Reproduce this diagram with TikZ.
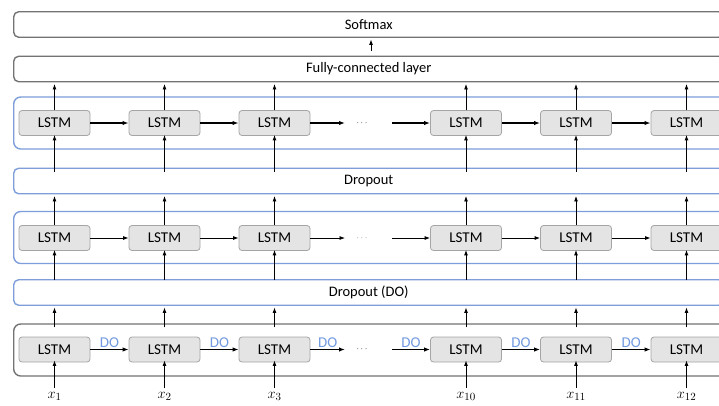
\documentclass[tikz,border=0pt]{standalone}
\usepackage{fontspec}
\setmainfont{Carlito}
\usetikzlibrary{arrows.meta}
\definecolor{blueline}{RGB}{125,158,218}
\definecolor{grayline}{RGB}{115,115,115}
\definecolor{lstmfill}{RGB}{228,228,228}
\definecolor{lstmdraw}{RGB}{165,165,165}
\definecolor{dotext}{RGB}{115,155,225}
\tikzset{
  lstmbox/.style={draw=lstmdraw, fill=lstmfill, rounded corners=3pt, line width=0.8pt,
    minimum width=71pt, minimum height=25pt, inner sep=0pt, font=\fontsize{15}{17}\selectfont},
  bandbox/.style={rounded corners=5pt, line width=1.4pt, anchor=west,
    minimum width=710pt, minimum height=25.5pt, inner sep=0pt, font=\fontsize{14.5}{16}\selectfont},
  groupbox/.style={rounded corners=7pt, line width=1.4pt, anchor=west,
    minimum width=720pt, minimum height=52pt, inner sep=0pt},
  uparrow/.style={-{Latex[length=5.5pt,width=4pt]}, line width=0.9pt},
  hthick/.style={-{Latex[length=6pt,width=4.5pt]}, line width=1.5pt},
  hmed/.style={-{Latex[length=6pt,width=4.3pt]}, line width=1.1pt},
  hthin/.style={-{Latex[length=5.5pt,width=4pt]}, line width=0.8pt},
  dolab/.style={text=dotext, font=\fontsize{15}{17}\selectfont, inner sep=1pt},
  dotsnode/.style={inner sep=0pt, font=\fontsize{9}{10}\selectfont},
  xlab/.style={anchor=base, inner sep=0pt, font=\fontsize{15}{17}\selectfont}
}
\begin{document}
\begin{tikzpicture}[x=1pt,y=-1pt]
\useasboundingbox (0,0) rectangle (719,405);
\clip (0,0) rectangle (719,405);
\fill[white] (0,0) rectangle (719,405);

% bands
\node[bandbox, draw=grayline] (soft) at (13,24.5) {Softmax};
\node[bandbox, draw=grayline] (fc) at (13,69) {Fully-connected layer};
\node[bandbox, draw=blueline] (drop) at (13,181) {Dropout};
\node[bandbox, draw=blueline] (dropdo) at (13,292.5) {Dropout (DO)};

% group containers
\node[groupbox, draw=blueline] (g3) at (13,123) {};
\node[groupbox, draw=blueline] (g2) at (13,237.5) {};
\node[groupbox, draw=grayline] (g1) at (13,350) {};

\coordinate (sfa) at (371,50.5);
\draw[uparrow] (sfa) -- ([yshift=-1.5pt]soft.south -| sfa);

% LSTM rows
\foreach \r/\y in {a/123, b/238, c/349.5} {
  \node[lstmbox] (\r1) at (54.5,\y) {LSTM};
  \node[lstmbox] (\r2) at (164.5,\y) {LSTM};
  \node[lstmbox] (\r3) at (274.5,\y) {LSTM};
  \node[lstmbox] (\r4) at (466,\y) {LSTM};
  \node[lstmbox] (\r5) at (576,\y) {LSTM};
  \node[lstmbox] (\r6) at (686.5,\y) {LSTM};
  \coordinate (\r d1) at (345,\y);
  \coordinate (\r d2) at (392,\y);
}
\node[dotsnode] (adots) at (362,123) {$\cdots$};
\node[dotsnode, text=black!55] (bdots) at (362,238) {$\cdots$};
\node[dotsnode] (cdots) at (362,349.5) {$\cdots$};

% horizontal arrows, top row
\draw[hmed] (a1.east) -- (a2.west);
\draw[hmed] (a2.east) -- (a3.west);
\draw[hmed] (a3.east) -- (ad1);
\draw[hmed] (ad2) -- (a4.west);
\draw[hmed] (a4.east) -- (a5.west);
\draw[hmed] (a5.east) -- (a6.west);
% middle row
\draw[hthin] (b1.east) -- (b2.west);
\draw[hthin] (b2.east) -- (b3.west);
\draw[hthin] (b3.east) -- (bd1);
\draw[hthin] (bd2) -- (b4.west);
\draw[hthin] (b4.east) -- (b5.west);
\draw[hthin] (b5.east) -- (b6.west);
% bottom row with DO
\draw[hthick] (c1.east) -- node[dolab, above] {DO} (c2.west);
\draw[hthick] (c2.east) -- node[dolab, above] {DO} (c3.west);
\draw[hthick] (c3.east) -- node[dolab, above] {DO} (cd1);
\draw[hthick] (cd2) -- node[dolab, above] {DO} (c4.west);
\draw[hthick] (c4.east) -- node[dolab, above] {DO} (c5.west);
\draw[hthick] (c5.east) -- node[dolab, above] {DO} (c6.west);

% vertical arrows
\foreach \i in {1,...,6} {
  \draw[uparrow] (a\i.north) -- ([yshift=-1.5pt]a\i.north |- fc.south);
  \draw[uparrow] ([yshift=-4pt]a\i.south |- drop.north) -- ([yshift=1pt]a\i.south);
  \draw[uparrow] (b\i.north) -- ([yshift=-1.5pt]b\i.north |- drop.south);
  \draw[uparrow] ([yshift=-0.5pt]b\i.south |- dropdo.north) -- ([yshift=1pt]b\i.south);
  \draw[uparrow] ([yshift=-4pt]c\i.north |- g1.north) -- ([yshift=-1.5pt]c\i.north |- dropdo.south);
}
\foreach \i/\lab in {1/1,2/2,3/3,4/10,5/11,6/12} {
  \coordinate (xb\i) at (c\i.south |- 0,388);
  \draw[uparrow] (xb\i) -- ([yshift=2pt]c\i.south);
  \node[xlab] (x\i) at (c\i.south |- 0,398.5) {$x_{\lab}$};
}
\end{tikzpicture}
\end{document}
